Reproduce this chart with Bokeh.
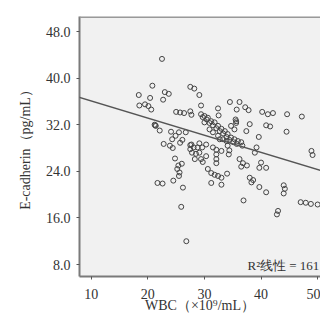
from bokeh.plotting import figure
from bokeh.models import Range1d, Slope, Label, FixedTicker, NumeralTickFormatter, Span
from bokeh.embed import file_html
from bokeh.resources import INLINE

# WBC (x10^9/mL)
wbc = [22.5, 20.8, 18.4, 20.4, 23.0, 23.7, 22.7, 18.5, 19.5, 20.1, 20.6,
       21.3, 21.4, 21.2, 22.1, 25.0, 25.7, 26.4, 27.5, 27.7, 27.5, 28.2, 29.1,
       29.4, 24.1, 25.5, 26.7, 24.3, 22.8, 23.9, 24.4, 27.5, 28.1, 28.8, 29.6,
       27.8, 28.5, 24.8, 25.4, 26.0, 25.2, 25.6, 25.5, 21.7, 22.6, 24.5, 26.2,
       25.9, 26.8, 32.4, 32.5, 34.5, 36.2, 35.7, 37.2, 37.8, 40.2, 41.2, 42.1,
       44.6, 47.2, 35.5, 35.6, 38.0, 37.4, 40.9, 41.6, 44.5, 39.6, 39.2, 38.9,
       48.9, 49.1,
       29.4, 30.0, 30.6, 31.2, 31.8, 32.4, 33.0, 33.6, 34.1, 34.7, 35.3, 35.9,
       36.5, 30.0, 30.9, 31.5, 32.4, 33.3, 33.9, 35.6, 34.7, 35.3, 36.7,
       29.7, 30.4, 30.9, 31.5, 32.1, 32.7, 33.3, 33.9, 34.4, 35.1, 35.7,
       24.9, 26.1, 25.7, 29.1, 27.5, 29.1, 30.3, 31.5, 32.1, 33.0, 34.1, 34.4,
       34.3, 28.3, 29.4, 29.7, 30.6, 31.2, 31.8, 32.4, 33.0, 34.0, 32.1, 30.3,
       36.2, 36.8, 36.5, 37.5, 32.1, 32.1, 31.2, 33.0, 40.0, 39.7, 40.9, 38.0,
       38.6, 38.3, 39.7, 40.9, 36.9, 44.0, 44.2, 44.0, 47.0, 47.9, 48.8, 50.0,
       43.0, 42.8, 32.7, 27.7]

# E-cadherin (pg/mL)
ecad = [43.3, 38.7, 37.1, 36.6, 37.6, 37.3, 36.3, 35.3, 35.5, 35.2, 34.6,
        31.9, 31.8, 32.0, 31.0, 34.2, 34.1, 34.0, 34.3, 33.7, 38.5, 38.2, 37.1,
        35.3, 30.8, 30.7, 30.7, 29.5, 28.7, 28.4, 28.0, 28.5, 28.1, 28.1, 28.1,
        27.2, 27.0, 26.2, 25.0, 25.3, 24.4, 23.8, 23.2, 22.0, 21.9, 22.4, 21.2,
        17.9, 12.0, 34.8, 33.6, 35.9, 35.9, 34.6, 35.0, 34.5, 34.2, 33.8, 34.0,
        33.8, 33.4, 32.9, 32.3, 32.1, 30.9, 31.9, 31.7, 30.8, 29.9, 28.1, 27.2,
        27.5, 26.8,
        33.8, 33.5, 33.2, 32.6, 32.4, 31.8, 31.3, 30.9, 30.4, 29.8, 29.5, 29.2,
        29.0, 32.4, 31.2, 30.7, 30.1, 29.5, 29.2, 32.6, 31.8, 31.2, 28.4,
        33.3, 32.9, 32.3, 31.9, 31.4, 30.9, 30.5, 29.9, 29.4, 29.0, 28.7,
        30.1, 29.4, 28.9, 28.8, 27.8, 27.2, 28.6, 28.1, 27.7, 27.5, 28.4, 27.6,
        26.9, 26.1, 26.1, 25.6, 24.4, 23.7, 23.4, 23.2, 22.9, 23.6, 25.4, 26.6,
        26.1, 25.4, 24.8, 25.0, 26.9, 26.1, 22.0, 21.7, 25.5, 24.6, 24.6, 22.9,
        22.5, 22.1, 21.3, 20.4, 19.0, 21.6, 21.0, 20.2, 18.7, 18.6, 18.4, 18.3,
        17.2, 16.6, 29.5, 28.6]

# Linear fit
fit_slope = -0.295
fit_intercept = 39.04

x_ticks = [10, 20, 30, 40, 50]
y_ticks = [8, 16, 24, 32, 40, 48]
r2_text = "R²线性 = 161"

X_START, X_END = 7.93, 50.5
Y_START, Y_END = 5.94, 50.58

SERIF = "Liberation Serif"
TXT = "#333333"

p = figure(width=320, height=323, output_backend="svg", toolbar_location=None,
           x_range=Range1d(X_START, X_END), y_range=Range1d(Y_START, Y_END),
           min_border_left=79, min_border_right=0, min_border_top=16,
           min_border_bottom=47)
p.background_fill_color = "#f1f1f1"
p.border_fill_color = "white"
p.outline_line_color = None
p.grid.visible = False

for ax in (p.xaxis[0], p.yaxis[0]):
    ax.axis_line_color = "#7a7a7a"
    ax.axis_line_width = 2
    ax.major_tick_line_color = "#555555"
    ax.major_tick_out = 3
    ax.major_tick_in = 0
    ax.minor_tick_line_color = None
    ax.major_label_text_font = SERIF
    ax.major_label_text_font_size = "14px"
    ax.major_label_text_color = TXT
    ax.axis_label_text_font = SERIF
    ax.axis_label_text_font_size = "14px"
    ax.axis_label_text_font_style = "normal"
    ax.axis_label_text_color = TXT

p.xaxis[0].ticker = FixedTicker(ticks=x_ticks)
p.yaxis[0].ticker = FixedTicker(ticks=y_ticks)
p.yaxis[0].formatter = NumeralTickFormatter(format="0.0")
p.xaxis[0].axis_label = "WBC（×10⁹/mL）"
p.yaxis[0].axis_label = "E-cadherin（pg/mL）"
p.xaxis[0].major_label_standoff = 9
p.yaxis[0].major_label_standoff = 6
p.xaxis[0].axis_label_standoff = -4
p.yaxis[0].axis_label_standoff = 10

p.add_layout(Span(location=Y_END, dimension="width", line_color="#999999",
                  line_width=3))

p.scatter(wbc, ecad, marker="circle", size=5, fill_color=None,
          line_color="#444444", line_width=1)

p.add_layout(Slope(gradient=fit_slope, y_intercept=fit_intercept,
                   line_color="#555555", line_width=1.5))

p.add_layout(Label(x=37.6, y=7.9, text=r2_text, text_font=SERIF,
                   text_font_size="13px", text_color=TXT,
                   text_baseline="alphabetic", text_align="left"))

open("out.html", "w").write(file_html(p, INLINE))
